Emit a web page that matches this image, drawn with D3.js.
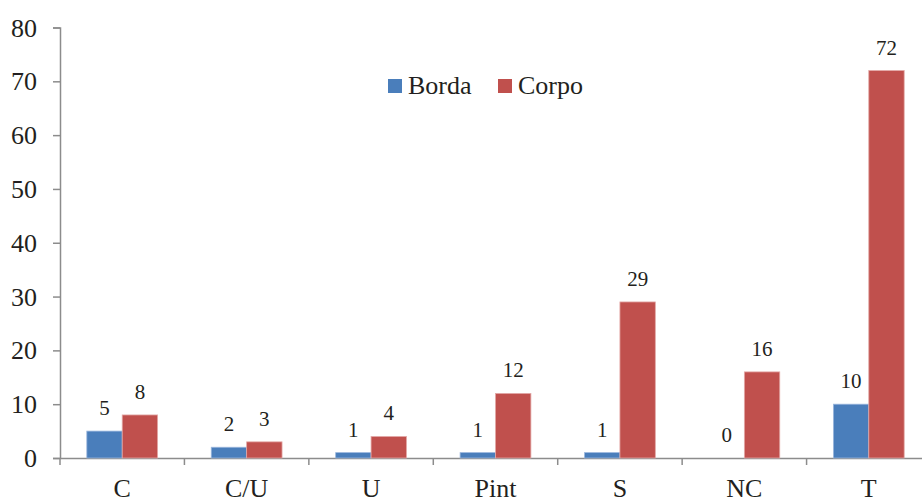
<!DOCTYPE html>
<html><head><meta charset="utf-8">
<script src="https://cdn.jsdelivr.net/npm/d3@7"></script>
<style>body{margin:0;background:#fff}svg{display:block}</style>
</head><body>
<script>
const categories = ["C", "C/U", "U", "Pint", "S", "NC", "T"];
const borda = [5, 2, 1, 1, 1, 0, 10];
const corpo = [8, 3, 4, 12, 29, 16, 72];
const seriesNames = ["Borda", "Corpo"];
const yTicks = [0, 10, 20, 30, 40, 50, 60, 70, 80];

const W = 922, H = 500;
const colors = ["#4a7ebb", "#c0504d"];
const strokes = ["#9bb7dd", "#e3a9a7"];
const svg = d3.select("body").append("svg").attr("width", W).attr("height", H);

const x = d3.scaleBand().domain(categories).range([60, 931]);
const y = d3.scaleLinear().domain([0, 80]).range([458, 27.5]);
const barW = 35.4;

const font = "'Liberation Serif', 'Times New Roman', serif";

// Y axis
const ya = svg.append("g").attr("transform", "translate(60,0)")
  .call(d3.axisLeft(y).tickValues(yTicks).tickSize(7).tickPadding(16).tickSizeOuter(7));
ya.selectAll("path,line").attr("stroke", "#8c8c8c").attr("stroke-width", 1.5);
ya.selectAll("text").attr("font-family", font).attr("font-size", 26).attr("fill", "#231f20").attr("dy", "0.33em");

// X axis
const xa = svg.append("g").attr("transform", "translate(0,458)")
  .call(d3.axisBottom(x).tickSize(0).tickSizeOuter(0));
xa.select("path").attr("stroke", "#8c8c8c").attr("stroke-width", 1.5);
xa.selectAll("text").attr("font-family", font).attr("font-size", 26).attr("fill", "#231f20")
  .attr("y", 39).attr("dy", 0);
// boundary tick marks
const bounds = categories.map(c => x(c)).concat([x(categories[categories.length-1]) + x.bandwidth()]);
svg.append("g").selectAll("line").data(bounds).join("line")
  .attr("x1", d => d).attr("x2", d => d).attr("y1", 458).attr("y2", 465)
  .attr("stroke", "#8c8c8c").attr("stroke-width", 1.5);

const series = [borda, corpo];
series.forEach((vals, si) => {
  const g = svg.append("g");
  const data = categories.map((c, i) => ({c, v: vals[i]}));
  const xPos = d => x(d.c) + x.bandwidth() / 2 + (si === 0 ? -barW : 0);
  g.selectAll("rect").data(data.filter(d => d.v > 0)).join("rect")
    .attr("x", xPos).attr("width", barW)
    .attr("y", d => y(d.v)).attr("height", d => y(0) - y(d.v))
    .attr("fill", colors[si]).attr("stroke", strokes[si]).attr("stroke-width", 0.8);
  g.selectAll("text").data(data).join("text")
    .attr("x", d => xPos(d) + barW / 2).attr("y", d => y(d.v) - 16)
    .attr("text-anchor", "middle").attr("font-family", font).attr("font-size", 21)
    .attr("fill", "#231f20").text(d => d.v);
});

// Legend
const legX = [388, 498];
seriesNames.forEach((n, i) => {
  svg.append("rect").attr("x", legX[i]).attr("y", 79).attr("width", 14).attr("height", 14).attr("fill", colors[i]);
  svg.append("text").attr("x", legX[i] + 20).attr("y", 94).attr("font-family", font).attr("font-size", 26)
    .attr("fill", "#231f20").text(n);
});
</script>
</body></html>
